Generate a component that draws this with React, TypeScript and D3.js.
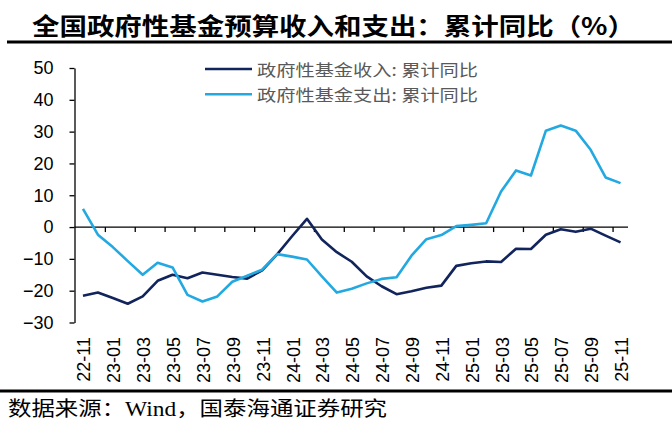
import * as d3 from 'd3';
import React, { useEffect, useRef } from 'react';

const months = [
  '22-11', '22-12', '23-01', '23-02', '23-03', '23-04', '23-05', '23-06', '23-07', '23-08',
  '23-09', '23-10', '23-11', '23-12', '24-01', '24-02', '24-03', '24-04', '24-05', '24-06',
  '24-07', '24-08', '24-09', '24-10', '24-11', '24-12', '25-01', '25-02', '25-03', '25-04',
  '25-05', '25-06', '25-07', '25-08', '25-09', '25-10', '25-11',
];

// 政府性基金收入: 累计同比
const revenue = [
  -21.6, -20.6, -22.3, -24.1, -21.8, -16.9, -15.0, -16.1, -14.3, -15.0,
  -15.7, -16.2, -13.6, -8.6, -2.9, 2.6, -3.9, -7.9, -10.9, -15.5,
  -18.6, -21.1, -20.2, -19.1, -18.4, -12.2, -11.4, -10.8, -11.0, -6.8,
  -6.9, -2.4, -0.7, -1.5, -0.5, -2.7, -4.8,
];

// 政府性基金支出: 累计同比
const spending = [
  5.7, -2.4, -6.3, -10.7, -15.0, -11.2, -12.7, -21.3, -23.4, -21.8,
  -17.2, -15.3, -13.4, -8.5, -9.3, -10.2, -15.5, -20.6, -19.4, -17.7,
  -16.3, -15.8, -9.0, -3.8, -2.5, 0.3, 0.7, 1.2, 11.2, 17.8,
  16.2, 30.3, 31.9, 30.3, 24.3, 15.6, 13.8,
];

const yTicks = [50, 40, 30, 20, 10, 0, -10, -20, -30];

const seriesNames = ['政府性基金收入: 累计同比', '政府性基金支出: 累计同比'];
const seriesColors = ['#12245c', '#23a9e1'];

const title = '全国政府性基金预算收入和支出：累计同比（%）';
const source = '数据来源：Wind，国泰海通证券研究';

const WIDTH = 672;
const HEIGHT = 421;

export default function App() {
  const svgRef = useRef<SVGSVGElement | null>(null);

  useEffect(() => {
    if (!svgRef.current) return;
    const svg = d3.select(svgRef.current);
    svg.selectAll('*').remove();

    const x = d3.scaleBand().domain(months).range([75.5, 628]).padding(0);
    const y = d3.scaleLinear().domain([-30, 50]).range([322.5, 68]);
    const cx = (m: string) => (x(m) as number) + x.bandwidth() / 2;

    // title + rule
    svg
      .append('text')
      .attr('x', 32)
      .attr('y', 24)
      .attr('dominant-baseline', 'central')
      .attr('textLength', 603)
      .attr('lengthAdjust', 'spacingAndGlyphs')
      .style('font-family', '"Noto Sans CJK SC", sans-serif')
      .style('font-weight', 700)
      .style('font-size', '24px')
      .attr('fill', '#000')
      .text(title);
    svg.append('line').attr('x1', 7).attr('x2', 672).attr('y1', 42).attr('y2', 42)
      .attr('stroke', '#000').attr('stroke-width', 2.8);

    // y axis
    const yAxis = svg
      .append('g')
      .attr('transform', 'translate(74.5,0)')
      .call(d3.axisLeft(y).tickValues(yTicks).tickSize(5).tickPadding(16).tickSizeOuter(0));
    yAxis.select('.domain').attr('stroke', '#000').attr('stroke-width', 1.3);
    yAxis.selectAll('.tick line').attr('stroke', '#000').attr('stroke-width', 1.3);
    yAxis
      .selectAll('text')
      .style('font-family', '"Liberation Sans", Arial, sans-serif')
      .style('font-size', '18px')
      .attr('fill', '#000');

    // x axis on zero line, ticks between categories every 2
    const y0 = y(0);
    const gx = svg.append('g');
    gx.append('line')
      .attr('x1', 74.5)
      .attr('x2', 628)
      .attr('y1', y0)
      .attr('y2', y0)
      .attr('stroke', '#000')
      .attr('stroke-width', 1.3);
    gx.selectAll('line.tick')
      .data(months.filter((_, i) => i % 2 === 0 && i > 0))
      .enter()
      .append('line')
      .attr('class', 'tick')
      .attr('x1', (m) => x(m) as number)
      .attr('x2', (m) => x(m) as number)
      .attr('y1', y0)
      .attr('y2', y0 + 5)
      .attr('stroke', '#000')
      .attr('stroke-width', 1.3);

    // rotated category labels
    svg
      .append('g')
      .selectAll('text')
      .data(months.filter((_, i) => i % 2 === 0))
      .enter()
      .append('text')
      .attr('transform', (m) => `translate(${cx(m) + 1.5},337) rotate(-90)`)
      .attr('text-anchor', 'end')
      .attr('dominant-baseline', 'central')
      .style('font-family', '"Liberation Sans", Arial, sans-serif')
      .style('font-size', '18px')
      .attr('fill', '#000')
      .text((m) => m);

    // lines
    const line = d3
      .line<number>()
      .x((_, i) => cx(months[i]))
      .y((v) => y(v));
    [revenue, spending].forEach((s, k) => {
      svg
        .append('path')
        .datum(s)
        .attr('d', line)
        .attr('fill', 'none')
        .attr('stroke', seriesColors[k])
        .attr('stroke-width', 2.6)
        .attr('stroke-linejoin', 'round');
    });

    // legend
    const legend = svg.append('g');
    seriesNames.forEach((name, k) => {
      const ly = 69 + k * 25.3;
      legend
        .append('line')
        .attr('x1', 205)
        .attr('x2', 252)
        .attr('y1', ly)
        .attr('y2', ly)
        .attr('stroke', seriesColors[k])
        .attr('stroke-width', 2.6);
      legend
        .append('text')
        .attr('x', 257)
        .attr('y', ly)
        .attr('dominant-baseline', 'central')
        .attr('textLength', 221)
        .attr('lengthAdjust', 'spacingAndGlyphs')
        .style('font-family', '"Noto Sans CJK SC", sans-serif')
        .style('font-size', '16px')
        .attr('fill', '#595959')
        .text(name);
    });

    // source + rule
    svg.append('line').attr('x1', 0).attr('x2', 672).attr('y1', 391).attr('y2', 391)
      .attr('stroke', '#000').attr('stroke-width', 2.8);
    svg
      .append('text')
      .attr('x', 8)
      .attr('y', 409)
      .attr('dominant-baseline', 'central')
      .attr('textLength', 379)
      .attr('lengthAdjust', 'spacingAndGlyphs')
      .style('font-family', '"Liberation Serif", "Noto Sans CJK SC", serif')
      .style('font-size', '20px')
      .attr('fill', '#000')
      .text(source);
  }, []);

  return (
    <svg
      ref={svgRef}
      width={WIDTH}
      height={HEIGHT}
      style={{ position: 'absolute', left: 0, top: 0, background: '#fff' }}
    ></svg>
  );
}
